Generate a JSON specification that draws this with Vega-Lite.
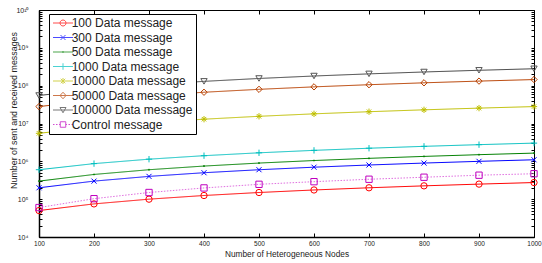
{
  "$schema": "https://vega.github.io/schema/vega-lite/v6.json",
  "width": 495,
  "height": 227,
  "autosize": {"type": "none"},
  "padding": {"left": 39, "top": 10, "right": 8, "bottom": 26},
  "background": "white",
  "config": {
    "view": {"stroke": "black", "strokeWidth": 1},
    "font": "Liberation Sans",
    "axis": {"labelFont": "Liberation Sans", "titleFont": "Liberation Sans", "titleFontWeight": "normal", "labelColor": "#222", "titleColor": "#222", "domainColor": "black", "tickColor": "black", "grid": false}
  },
  "data": {"values": [
    {"n": 100, "series": "100 Data message", "value": 50000},
    {"n": 200, "series": "100 Data message", "value": 75000},
    {"n": 300, "series": "100 Data message", "value": 100000},
    {"n": 400, "series": "100 Data message", "value": 125000},
    {"n": 500, "series": "100 Data message", "value": 150000},
    {"n": 600, "series": "100 Data message", "value": 175000},
    {"n": 700, "series": "100 Data message", "value": 200000},
    {"n": 800, "series": "100 Data message", "value": 225000},
    {"n": 900, "series": "100 Data message", "value": 250000},
    {"n": 1000, "series": "100 Data message", "value": 275000},
    {"n": 100, "series": "300 Data message", "value": 200000},
    {"n": 200, "series": "300 Data message", "value": 300000},
    {"n": 300, "series": "300 Data message", "value": 400000},
    {"n": 400, "series": "300 Data message", "value": 500000},
    {"n": 500, "series": "300 Data message", "value": 600000},
    {"n": 600, "series": "300 Data message", "value": 700000},
    {"n": 700, "series": "300 Data message", "value": 800000},
    {"n": 800, "series": "300 Data message", "value": 900000},
    {"n": 900, "series": "300 Data message", "value": 1000000},
    {"n": 1000, "series": "300 Data message", "value": 1100000},
    {"n": 100, "series": "500 Data message", "value": 300000},
    {"n": 200, "series": "500 Data message", "value": 450000},
    {"n": 300, "series": "500 Data message", "value": 600000},
    {"n": 400, "series": "500 Data message", "value": 750000},
    {"n": 500, "series": "500 Data message", "value": 900000},
    {"n": 600, "series": "500 Data message", "value": 1050000},
    {"n": 700, "series": "500 Data message", "value": 1200000},
    {"n": 800, "series": "500 Data message", "value": 1350000},
    {"n": 900, "series": "500 Data message", "value": 1500000},
    {"n": 1000, "series": "500 Data message", "value": 1650000},
    {"n": 100, "series": "1000 Data message", "value": 600000},
    {"n": 200, "series": "1000 Data message", "value": 870000},
    {"n": 300, "series": "1000 Data message", "value": 1140000},
    {"n": 400, "series": "1000 Data message", "value": 1410000},
    {"n": 500, "series": "1000 Data message", "value": 1680000},
    {"n": 600, "series": "1000 Data message", "value": 1950000},
    {"n": 700, "series": "1000 Data message", "value": 2220000},
    {"n": 800, "series": "1000 Data message", "value": 2490000},
    {"n": 900, "series": "1000 Data message", "value": 2760000},
    {"n": 1000, "series": "1000 Data message", "value": 3030000},
    {"n": 100, "series": "10000 Data message", "value": 5500000},
    {"n": 200, "series": "10000 Data message", "value": 8000000},
    {"n": 300, "series": "10000 Data message", "value": 10500000},
    {"n": 400, "series": "10000 Data message", "value": 13000000},
    {"n": 500, "series": "10000 Data message", "value": 15500000},
    {"n": 600, "series": "10000 Data message", "value": 18000000},
    {"n": 700, "series": "10000 Data message", "value": 20500000},
    {"n": 800, "series": "10000 Data message", "value": 23000000},
    {"n": 900, "series": "10000 Data message", "value": 25500000},
    {"n": 1000, "series": "10000 Data message", "value": 28000000},
    {"n": 100, "series": "50000 Data message", "value": 28000000},
    {"n": 200, "series": "50000 Data message", "value": 41000000},
    {"n": 300, "series": "50000 Data message", "value": 54000000},
    {"n": 400, "series": "50000 Data message", "value": 67000000},
    {"n": 500, "series": "50000 Data message", "value": 80000000},
    {"n": 600, "series": "50000 Data message", "value": 93000000},
    {"n": 700, "series": "50000 Data message", "value": 106000000},
    {"n": 800, "series": "50000 Data message", "value": 119000000},
    {"n": 900, "series": "50000 Data message", "value": 132000000},
    {"n": 1000, "series": "50000 Data message", "value": 145000000},
    {"n": 100, "series": "100000 Data message", "value": 55000000},
    {"n": 200, "series": "100000 Data message", "value": 80000000},
    {"n": 300, "series": "100000 Data message", "value": 105000000},
    {"n": 400, "series": "100000 Data message", "value": 130000000},
    {"n": 500, "series": "100000 Data message", "value": 155000000},
    {"n": 600, "series": "100000 Data message", "value": 180000000},
    {"n": 700, "series": "100000 Data message", "value": 205000000},
    {"n": 800, "series": "100000 Data message", "value": 230000000},
    {"n": 900, "series": "100000 Data message", "value": 255000000},
    {"n": 1000, "series": "100000 Data message", "value": 280000000},
    {"n": 100, "series": "Control message", "value": 60000},
    {"n": 200, "series": "Control message", "value": 103000},
    {"n": 300, "series": "Control message", "value": 150000},
    {"n": 400, "series": "Control message", "value": 198000},
    {"n": 500, "series": "Control message", "value": 247000},
    {"n": 600, "series": "Control message", "value": 290000},
    {"n": 700, "series": "Control message", "value": 336000},
    {"n": 800, "series": "Control message", "value": 380000},
    {"n": 900, "series": "Control message", "value": 430000},
    {"n": 1000, "series": "Control message", "value": 470000}
  ]},
  "layer": [
    {
      "mark": {"type": "line", "strokeWidth": 1, "clip": true},
      "encoding": {
        "x": {"field": "n", "type": "quantitative", "scale": {"domain": [100, 1000], "nice": false, "zero": false},
          "axis": {"orient": "bottom", "title": "Number of Heterogeneous Nodes", "values": [100, 200, 300, 400, 500, 600, 700, 800, 900, 1000], "format": "d", "labelFontSize": 6.5, "titleFontSize": 8.3, "tickSize": -4, "labelPadding": 7, "titlePadding": 3, "domainWidth": 1.5, "labelFlush": false}},
        "y": {"field": "value", "type": "quantitative", "scale": {"type": "log", "domain": [10000, 10000000000], "nice": false},
          "axis": {"orient": "left", "title": "Number of sent and received messages", "titleFontSize": 8.9, "titleX": -26, "titleY": 100, "titleAngle": -90, "titleBaseline": "middle", "titleAlign": "center", "tickSize": -3, "labelFontSize": 7, "labelPadding": 14, "domainWidth": 1.5,
            "values": [1e4,2e4,3e4,4e4,5e4,6e4,7e4,8e4,9e4,1e5,2e5,3e5,4e5,5e5,6e5,7e5,8e5,9e5,1e6,2e6,3e6,4e6,5e6,6e6,7e6,8e6,9e6,1e7,2e7,3e7,4e7,5e7,6e7,7e7,8e7,9e7,1e8,2e8,3e8,4e8,5e8,6e8,7e8,8e8,9e8,1e9,2e9,3e9,4e9,5e9,6e9,7e9,8e9,9e9,1e10],
            "labelExpr": "abs(log(datum.value)/LN10 - round(log(datum.value)/LN10)) < 0.001 ? '10' + ['⁴','⁵','⁶','⁷','⁸','⁹','¹⁰'][round(log(datum.value)/LN10) - 4] : ''"}},
        "color": {"field": "series", "type": "nominal", "legend": null,
          "scale": {"domain": ["100 Data message", "300 Data message", "500 Data message", "1000 Data message", "10000 Data message", "50000 Data message", "100000 Data message", "Control message"],
            "range": ["#ff0000", "#0000ff", "#008000", "#00bfbf", "#bfbf00", "#b84000", "#404040", "#e070e0"]}},
        "strokeDash": {"field": "series", "type": "nominal", "legend": null,
          "scale": {"domain": ["100 Data message", "300 Data message", "500 Data message", "1000 Data message", "10000 Data message", "50000 Data message", "100000 Data message", "Control message"],
            "range": [[1, 0], [1, 0], [1, 0], [1, 0], [1, 0], [1, 0], [1, 0], [1.5, 1.5]]}}
      }
    },
    {
      "mark": {"type": "point", "filled": false, "strokeWidth": 1, "size": 40, "opacity": 1},
      "encoding": {
        "x": {"field": "n", "type": "quantitative", "axis": {"orient": "top", "title": null, "labels": false, "values": [100, 200, 300, 400, 500, 600, 700, 800, 900, 1000], "tickSize": -4, "domain": false}},
        "y": {"field": "value", "type": "quantitative", "axis": {"orient": "right", "title": null, "labels": false, "tickSize": -3, "domain": false,
            "values": [1e4,2e4,3e4,4e4,5e4,6e4,7e4,8e4,9e4,1e5,2e5,3e5,4e5,5e5,6e5,7e5,8e5,9e5,1e6,2e6,3e6,4e6,5e6,6e6,7e6,8e6,9e6,1e7,2e7,3e7,4e7,5e7,6e7,7e7,8e7,9e7,1e8,2e8,3e8,4e8,5e8,6e8,7e8,8e8,9e8,1e9,2e9,3e9,4e9,5e9,6e9,7e9,8e9,9e9,1e10]}},
        "color": {"field": "series", "type": "nominal", "legend": null,
          "scale": {"domain": ["100 Data message", "300 Data message", "500 Data message", "1000 Data message", "10000 Data message", "50000 Data message", "100000 Data message", "Control message"],
            "range": ["#ff0000", "#0000ff", "#008000", "#00bfbf", "#bfbf00", "#b84000", "#555555", "#bf00bf"]}},
        "shape": {"field": "series", "type": "nominal", "legend": null,
          "scale": {"domain": ["100 Data message", "300 Data message", "500 Data message", "1000 Data message", "10000 Data message", "50000 Data message", "100000 Data message", "Control message"],
            "range": ["circle", "M-0.8,-0.8L0.8,0.8M-0.8,0.8L0.8,-0.8", "M-0.2,0A0.2,0.2,0,1,1,0.2,0A0.2,0.2,0,1,1,-0.2,0", "M-1,0L1,0M0,-1L0,1", "M-1,0L1,0M0,-1L0,1M-0.7,-0.7L0.7,0.7M-0.7,0.7L0.7,-0.7", "diamond", "triangle-down", "square"]}}
      }
    },
    {
      "transform": [{"filter": "false"}],
      "mark": {"type": "point", "filled": false, "strokeWidth": 1},
      "encoding": {
        "x": {"field": "n", "type": "quantitative", "axis": null},
        "y": {"field": "value", "type": "quantitative", "axis": null},
        "color": {"field": "series", "type": "nominal",
          "scale": {"domain": ["100 Data message", "300 Data message", "500 Data message", "1000 Data message", "10000 Data message", "50000 Data message", "100000 Data message", "Control message"],
            "range": ["#ff0000", "#0000ff", "#008000", "#00bfbf", "#bfbf00", "#b84000", "#404040", "#bf00bf"]},
          "legend": {"orient": "none", "legendX": 10, "legendY": 4, "title": null, "fillColor": "white", "strokeColor": "black", "padding": 3, "labelFont": "Liberation Sans", "labelFontSize": 12, "labelColor": "#222", "symbolSize": 100, "labelOffset": 7.7, "rowPadding": 2.5, "symbolStrokeWidth": 1, "labelLimit": 300}},
        "shape": {"field": "series", "type": "nominal",
          "scale": {"domain": ["100 Data message", "300 Data message", "500 Data message", "1000 Data message", "10000 Data message", "50000 Data message", "100000 Data message", "Control message"],
            "range": [
              "M-1,0H3M1.6,0A0.6,0.6,0,1,1,0.4,0A0.6,0.6,0,1,1,1.6,0",
              "M-1,0H3M0.5,-0.5L1.5,0.5M0.5,0.5L1.5,-0.5",
              "M-1,0H3M1.1,0A0.1,0.1,0,1,1,0.9,0A0.1,0.1,0,1,1,1.1,0",
              "M-1,0H3M1,-0.65V0.65",
              "M-1,0H3M1,-0.6V0.6M0.55,-0.45L1.45,0.45M0.55,0.45L1.45,-0.45",
              "M-1,0H3M1,-0.65L1.6,0L1,0.65L0.4,0Z",
              "M-1,0H3M0.4,-0.5H1.6L1,0.55Z",
              "M-1,0H-0.7M-0.4,0H-0.1M0.2,0H0.45M1.55,0H1.8M2.1,0H2.4M2.7,0H3M0.45,-0.55H1.55V0.55H0.45Z"
            ]},
          "legend": {"orient": "none", "legendX": 10, "legendY": 4, "title": null, "fillColor": "white", "strokeColor": "black", "padding": 3, "labelFont": "Liberation Sans", "labelFontSize": 12, "labelColor": "#222", "symbolSize": 100, "labelOffset": 7.7, "rowPadding": 2.5, "symbolStrokeWidth": 1, "labelLimit": 300}}
      }
    }
  ],
  "resolve": {"scale": {"color": "independent", "shape": "independent", "strokeDash": "independent"}, "axis": {"x": "independent", "y": "independent"}}
}
